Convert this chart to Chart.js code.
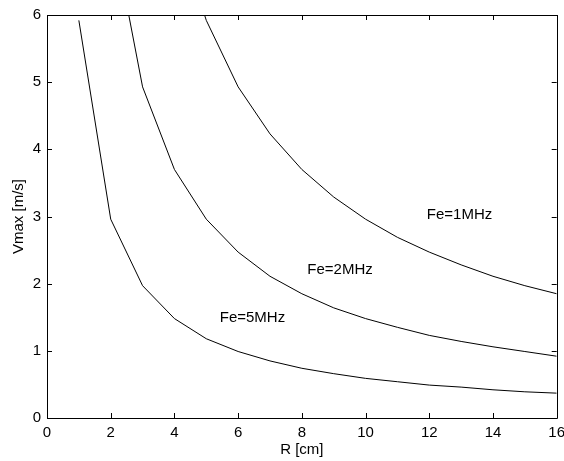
<!DOCTYPE html>
<html>
<head>
<meta charset="utf-8">
<script src="https://cdn.jsdelivr.net/npm/chart.js@4/dist/chart.umd.min.js"></script>
<style>
html,body{margin:0;padding:0;background:#fff;}
#wrap{width:564px;height:461px;}
</style>
</head>
<body>
<div id="wrap"><canvas id="c" width="564" height="461"></canvas></div>
<script>
// R values [cm]
const radii = [1, 2, 3, 4, 5, 6, 7, 8, 9, 10, 11, 12, 13, 14, 15, 16];
// Vmax [m/s] per emission frequency (values above 6 are clipped by the axis)
const fe1MHz = [null, null, null, 7.40, 5.92, 4.93, 4.23, 3.70, 3.29, 2.96, 2.69, 2.47, 2.28, 2.11, 1.97, 1.85];
const fe2MHz = [null, 7.40, 4.93, 3.70, 2.96, 2.47, 2.11, 1.85, 1.64, 1.48, 1.35, 1.23, 1.14, 1.06, 0.99, 0.92];
const fe5MHz = [5.92, 2.96, 1.97, 1.48, 1.18, 0.99, 0.85, 0.74, 0.66, 0.59, 0.54, 0.49, 0.46, 0.42, 0.39, 0.37];
const xTicks = [0, 2, 4, 6, 8, 10, 12, 14, 16];
const yTicks = [0, 1, 2, 3, 4, 5, 6];
// curve labels: text and anchor in data coordinates
const labelTexts = ["Fe=1MHz", "Fe=2MHz", "Fe=5MHz"];
const labelR = [12.95, 9.2, 6.45];
const labelV = [3.02, 2.2, 1.49];

const FONT = '"Liberation Sans", Arial, Helvetica, sans-serif';
const FS = 15;

function toPoints(ys) {
  const out = [];
  radii.forEach((r, i) => { if (ys[i] !== null) out.push({x: r, y: ys[i]}); });
  return out;
}

const frame = {
  id: 'frame',
  afterDraw(chart) {
    const {ctx, chartArea: a, scales: {x, y}} = chart;
    ctx.save();
    ctx.strokeStyle = '#000';
    ctx.lineWidth = 1;
    ctx.beginPath();
    ctx.rect(Math.round(a.left) + 0.5, Math.round(a.top) + 0.5,
             Math.round(a.right - a.left), Math.round(a.bottom - a.top));
    ctx.stroke();
    const L = 5;
    ctx.beginPath();
    xTicks.forEach(v => {
      const px = Math.round(x.getPixelForValue(v)) + 0.5;
      ctx.moveTo(px, a.bottom); ctx.lineTo(px, a.bottom - L);
      ctx.moveTo(px, a.top); ctx.lineTo(px, a.top + L);
    });
    yTicks.forEach(v => {
      const py = Math.round(y.getPixelForValue(v)) + 0.5;
      ctx.moveTo(a.left, py); ctx.lineTo(a.left + L, py);
      ctx.moveTo(a.right, py); ctx.lineTo(a.right - L, py);
    });
    ctx.stroke();
    ctx.fillStyle = '#000';
    ctx.font = FS + 'px ' + FONT;
    ctx.textAlign = 'center';
    ctx.textBaseline = 'middle';
    labelTexts.forEach((t, i) => {
      ctx.fillText(t, x.getPixelForValue(labelR[i]), y.getPixelForValue(labelV[i]));
    });
    ctx.restore();
  }
};

const lineStyle = {borderColor: '#000', borderWidth: 1, pointRadius: 0, fill: false, tension: 0};

new Chart(document.getElementById('c'), {
  type: 'line',
  data: {
    datasets: [
      Object.assign({label: labelTexts[0], data: toPoints(fe1MHz)}, lineStyle),
      Object.assign({label: labelTexts[1], data: toPoints(fe2MHz)}, lineStyle),
      Object.assign({label: labelTexts[2], data: toPoints(fe5MHz)}, lineStyle)
    ]
  },
  options: {
    responsive: false,
    animation: false,
    devicePixelRatio: 1,
    layout: {padding: {left: 0, top: 15, right: 0, bottom: 0}},
    plugins: {legend: {display: false}, tooltip: {enabled: false}},
    scales: {
      x: {
        type: 'linear', min: 0, max: 16,
        afterBuildTicks: s => { s.ticks = xTicks.map(v => ({value: v})); },
        afterFit: s => { s.height = 43; s.paddingLeft = 0; s.paddingRight = 7.3; },
        grid: {display: false, drawTicks: false},
        border: {display: false},
        ticks: {color: '#000', padding: 6, font: {family: FONT, size: FS}, maxRotation: 0},
        title: {display: true, text: 'R [cm]', color: '#000', font: {family: FONT, size: FS}, padding: {top: 0, bottom: 2}}
      },
      y: {
        type: 'linear', min: 0, max: 6,
        afterBuildTicks: s => { s.ticks = yTicks.map(v => ({value: v})); },
        afterFit: s => { s.width = 47; s.paddingTop = 0; s.paddingBottom = 0; },
        grid: {display: false, drawTicks: false},
        border: {display: false},
        ticks: {color: '#000', padding: 6, font: {family: FONT, size: FS}},
        title: {display: true, text: 'Vmax [m/s]', color: '#000', font: {family: FONT, size: FS}, padding: {top: 10, bottom: 0}}
      }
    }
  },
  plugins: [frame]
});
</script>
</body>
</html>
